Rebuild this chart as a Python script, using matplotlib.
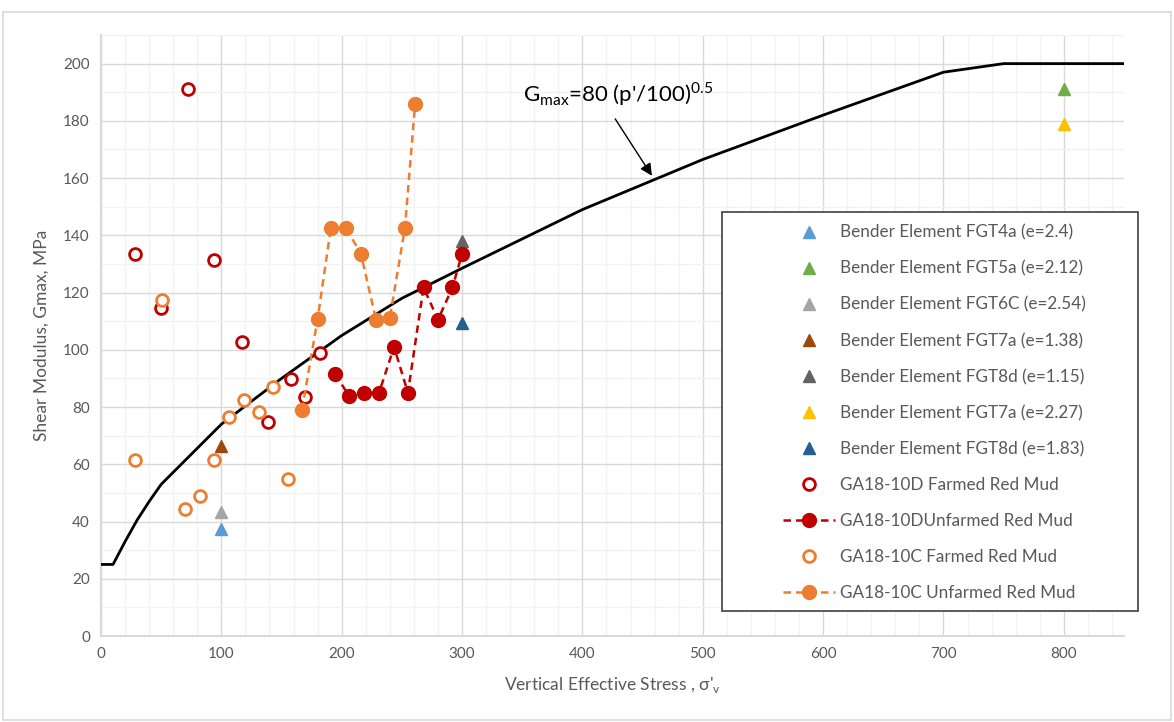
import matplotlib
matplotlib.use("Agg")
import matplotlib.pyplot as plt
from matplotlib.patches import Rectangle

plt.rcParams['font.family'] = ['Lato', 'DejaVu Sans']

# Reference curve Gmax = 80 (p'/100)^0.5 (capped at 200 MPa)
curve_x = [0, 10, 20, 30, 40, 50, 100, 150, 200, 250, 300, 400, 500, 600, 700, 750, 850]
curve_y = [25, 25, 33, 40.5, 47, 53, 74, 90, 105, 118, 128.5, 149, 166.5, 182, 197, 200, 200]

# Bender element tests
be_labels = ["Bender Element FGT4a (e=2.4)", "Bender Element FGT5a (e=2.12)",
             "Bender Element FGT6C (e=2.54)", "Bender Element FGT7a (e=1.38)",
             "Bender Element FGT8d (e=1.15)", "Bender Element FGT7a (e=2.27)",
             "Bender Element FGT8d (e=1.83)"]
be_x = [100, 800, 100, 100, 300, 800, 300]
be_y = [37.5, 191, 43.5, 66.5, 138, 179, 109.5]
be_colors = ["#5B9BD5", "#70AD47", "#A5A5A5", "#9E480E", "#636363", "#FFC000", "#255E91"]

# GA18-10D farmed red mud
d_farm_x = [72, 28, 94, 50, 117, 158, 182, 169.5, 139]
d_farm_y = [191, 133.5, 131.5, 114.5, 102.6, 89.7, 98.8, 83.4, 74.7]

# GA18-10D unfarmed red mud
d_unf_x = [194.5, 206, 218.5, 231, 243.5, 255, 268, 280, 292, 300]
d_unf_y = [91.5, 84, 85, 85, 101, 85, 121.8, 110.5, 121.8, 133.5]

# GA18-10C farmed red mud
c_farm_x = [28, 50.5, 70, 82, 94, 106.5, 118.5, 131, 143, 155]
c_farm_y = [61.5, 117.5, 44.3, 48.8, 61.5, 76.5, 82.5, 78.3, 87, 55]

# GA18-10C unfarmed red mud
c_unf_x = [167, 180, 191, 203.5, 216, 228.5, 240, 252.5, 261]
c_unf_y = [79, 110.8, 142.6, 142.6, 133.5, 110.5, 111.2, 142.5, 185.9]

RED = "#C00000"
ORANGE = "#ED7D31"
TXT = "#595959"

fig = plt.figure(figsize=(11.74, 7.22), dpi=100)
fig.patches.append(Rectangle((3 / 1174, 2 / 722), 1168 / 1174, 708 / 722,
                             transform=fig.transFigure, fill=False,
                             edgecolor="#D9D9D9", linewidth=1.2))

ax = fig.add_axes([101 / 1174, 1 - 636 / 722, 1023 / 1174, 601 / 722])
ax.set_xlim(0, 850)
ax.set_ylim(0, 210)
ax.set_xticks(range(0, 801, 100))
ax.set_yticks(range(0, 201, 20))
ax.set_xticks(range(0, 851, 20), minor=True)
ax.set_yticks(range(0, 211, 10), minor=True)
ax.grid(which="major", color="#D9D9D9", linewidth=1.0)
ax.grid(which="minor", color="#F2F2F2", linewidth=1.0)
ax.set_axisbelow(True)
for s in ["top", "right"]:
    ax.spines[s].set_visible(False)
for s in ["left", "bottom"]:
    ax.spines[s].set_color("#D9D9D9")
    ax.spines[s].set_linewidth(1.5)
ax.tick_params(which="both", length=0, labelsize=11, labelcolor=TXT, pad=8)

ax.set_xlabel("Vertical Effective Stress , σ'$_\\mathregular{v}$", fontsize=12.5, color=TXT, labelpad=10)
ax.set_ylabel("Shear Modulus, Gmax, MPa", fontsize=12.5, color=TXT, labelpad=10)

ax.plot(curve_x, curve_y, color="black", linewidth=2.0, zorder=3)

handles = []
for x, y, c, lab in zip(be_x, be_y, be_colors, be_labels):
    h, = ax.plot([x], [y], linestyle="none", marker="^", markersize=9,
                 color=c, label=lab, zorder=4)
    handles.append(h)

h1, = ax.plot(d_farm_x, d_farm_y, linestyle="none", marker="o", markersize=8.5,
              markerfacecolor="white", markeredgecolor=RED, markeredgewidth=2,
              label="GA18-10D Farmed Red Mud", zorder=4)
h2, = ax.plot(d_unf_x, d_unf_y, linestyle=(0, (3, 2)), linewidth=1.8, color=RED,
              marker="o", markersize=10, label="GA18-10DUnfarmed Red Mud", zorder=5)
h3, = ax.plot(c_farm_x, c_farm_y, linestyle="none", marker="o", markersize=8.5,
              markerfacecolor="white", markeredgecolor=ORANGE, markeredgewidth=2,
              label="GA18-10C Farmed Red Mud", zorder=4)
h4, = ax.plot(c_unf_x, c_unf_y, linestyle=(0, (3, 2)), linewidth=1.8, color=ORANGE,
              marker="o", markersize=10, label="GA18-10C Unfarmed Red Mud", zorder=5)
handles += [h1, h2, h3, h4]

# annotation for the reference curve
ax.annotate("", xy=(459, 160), xytext=(426, 181.5),
            arrowprops=dict(arrowstyle="-|>", color="black", lw=1.0,
                            mutation_scale=18), zorder=6)
ax.text(350.5, 189.5, "G$_\\mathregular{max}$=80 (p'/100)$^\\mathregular{0.5}$",
        fontsize=16, color="black", va="center", ha="left")

# legend frame
fig.patches.append(Rectangle((722 / 1174, 1 - 611 / 722), 416 / 1174, 399 / 722,
                             transform=fig.transFigure, facecolor="white",
                             edgecolor="#404040", linewidth=1.2, zorder=10))
leg = fig.legend(handles=handles, loc="upper left",
                 bbox_to_anchor=(774 / 1174, 1 - 216 / 722), frameon=False,
                 fontsize=12.3, labelcolor=TXT, handlelength=3.05,
                 handletextpad=0.3, labelspacing=1.17, borderpad=0.0)
leg.set_zorder(11)

fig.savefig("out.png", dpi=100)
